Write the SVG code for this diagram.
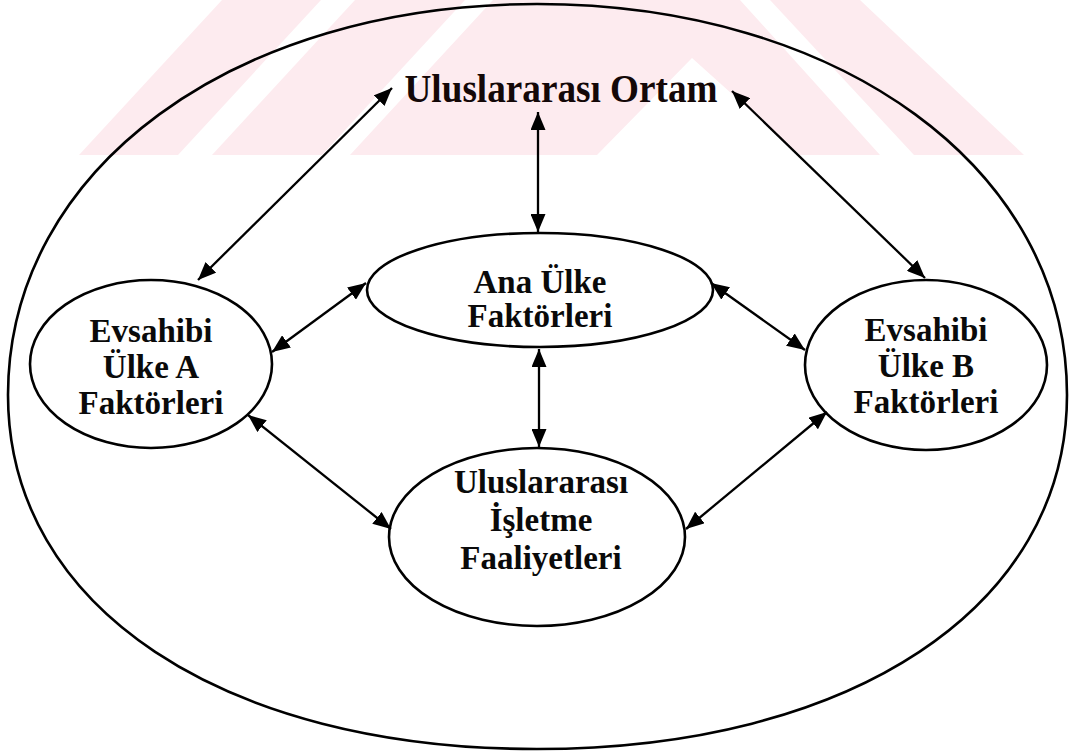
<svg xmlns="http://www.w3.org/2000/svg" width="1075" height="751" viewBox="0 0 1075 751">
<style>
.wm{fill:#fdebef;stroke:none}
.node ellipse{fill:none;stroke:#000;stroke-width:2.6}
.outer{fill:none;stroke:#000;stroke-width:2.6}
.lbl{font-family:"Liberation Serif","Times New Roman",serif;font-weight:bold;font-size:33px;fill:#0a0a0a;text-anchor:middle}
.title{font-family:"Liberation Serif","Times New Roman",serif;font-weight:bold;font-size:39px;fill:#140808;text-anchor:middle}
.con line{stroke:#000;stroke-width:2.3;marker-start:url(#ah);marker-end:url(#ah)}
</style>
<defs>
<marker id="ah" markerUnits="userSpaceOnUse" markerWidth="19" markerHeight="15" refX="18" refY="7.5" orient="auto-start-reverse">
<path d="M0,0 L18,7.5 L0,15 Z" fill="#000"/>
</marker>
</defs>
<rect width="1075" height="751" fill="#fff"/>
<g id="watermark">
<polygon class="wm" points="79,155 178,155 321,0 222,0"/>
<polygon class="wm" points="212,155 322,155 465,0 355,0"/>
<polygon class="wm" points="350,155 597,155 692,58 800,155 880,155 740,0 493,0"/>
<polygon class="wm" points="914,155 1024,155 860,0 770,0"/>
</g>
<g id="outer">
<path class="outer" d="M537,4 C839,4 1067,168 1067,395 C1067,608 850,749 537,749 C224,749 8,608 8,395 C8,168 235,4 537,4 Z"/>
</g>
<g id="title">
<text class="title" x="561" y="102" textLength="313" lengthAdjust="spacingAndGlyphs">Uluslararası Ortam</text>
</g>
<g id="ana" class="node">
<ellipse cx="540" cy="290" rx="173" ry="57"/>
<text class="lbl" x="540" y="293">Ana Ülke</text>
<text class="lbl" x="540" y="327">Faktörleri</text>
</g>
<g id="hostA" class="node">
<ellipse cx="151" cy="364" rx="121" ry="84"/>
<text class="lbl" x="151" y="342">Evsahibi</text>
<text class="lbl" x="151" y="378">Ülke A</text>
<text class="lbl" x="151" y="414">Faktörleri</text>
</g>
<g id="hostB" class="node">
<ellipse cx="926" cy="365" rx="121" ry="85"/>
<text class="lbl" x="926" y="341">Evsahibi</text>
<text class="lbl" x="926" y="377">Ülke B</text>
<text class="lbl" x="926" y="413">Faktörleri</text>
</g>
<g id="ops" class="node">
<ellipse cx="537" cy="537" rx="148" ry="89"/>
<text class="lbl" x="541" y="493">Uluslararası</text>
<text class="lbl" x="541" y="531">İşletme</text>
<text class="lbl" x="541" y="569">Faaliyetleri</text>
</g>
<g id="connectors" class="con">
<line x1="392" y1="88" x2="198" y2="280"/>
<line x1="538" y1="112" x2="538" y2="232"/>
<line x1="732" y1="91" x2="925" y2="278"/>
<line x1="366" y1="283" x2="272" y2="352"/>
<line x1="711" y1="283" x2="805" y2="350"/>
<line x1="539" y1="349" x2="539" y2="447"/>
<line x1="248" y1="415" x2="391" y2="529"/>
<line x1="827" y1="412" x2="686" y2="529"/>
</g>
</svg>
